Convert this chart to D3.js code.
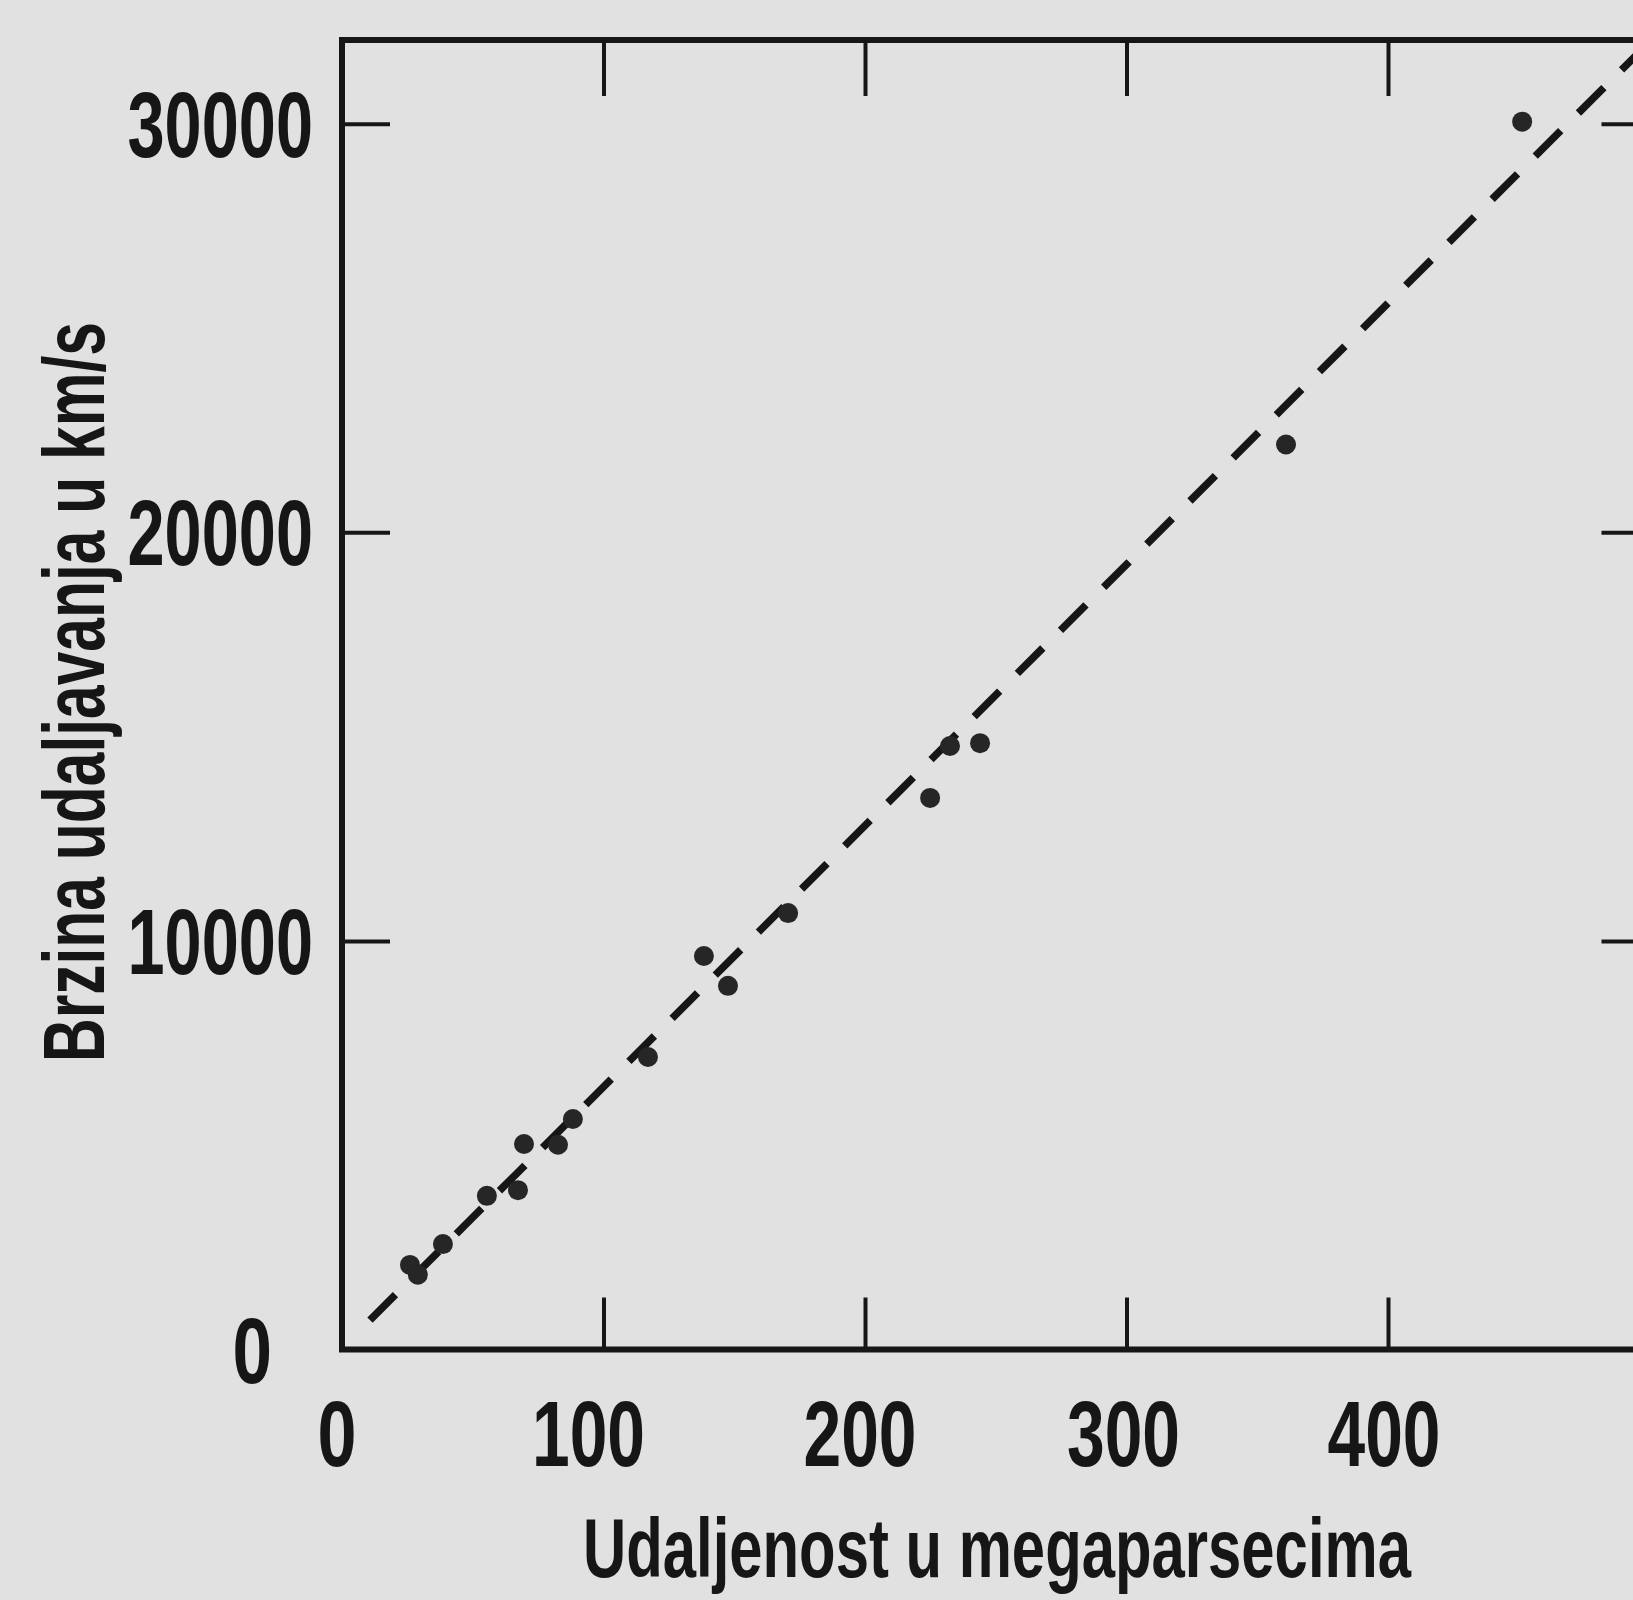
<!DOCTYPE html>
<html>
<head>
<meta charset="utf-8">
<script src="https://cdn.jsdelivr.net/npm/d3@7"></script>
<style>
  body { margin: 0; background: #e1e1e1; }
  svg { display: block; }
</style>
</head>
<body>
<script>
// distance (Mpc) and recession velocity (km/s)
var distance = [26, 29, 38.6, 55.4, 67.3, 69.6, 82.6, 88.3, 117, 138.4, 147.6, 170.6, 224.9, 232.5, 244, 361, 451.3]
var velocity = [2070, 1830, 2580, 3760, 3900, 5030, 5010, 5640, 7160, 9630, 8900, 10680, 13500, 14770, 14840, 22150, 30050]

// dashed fit line end points
var lineX = [10.7, 500]
var lineY = [720, 32000]

var xTicks = [0, 100, 200, 300, 400]
var yTicks = [0, 10000, 20000, 30000]

// define margin (plot area is square)
var margin = {left: 342, top: 42, right: 0, bottom: 250},
    width = 1307.5,
    height = 1307.5

var svg = d3.select("body").append("svg")
    .attr("width", 1633)
    .attr("height", 1600)

svg.append("rect")
    .attr("width", 1633)
    .attr("height", 1600)
    .attr("fill", "#e1e1e1")

var g = svg.append("g")
    .attr("transform", "translate(" + margin.left + "," + margin.top + ")")

var x = d3.scaleLinear().domain([0, 500]).range([0, width])
var y = d3.scaleLinear().domain([0, 32000]).range([height, 0])

var ink = "#161616"
var font = "'Liberation Sans Narrow', 'Liberation Sans', Arial, sans-serif"

// inward ticks on all four sides, no labels from the axis itself
function styleAxis(sel) {
    sel.selectAll("text").remove()
    sel.select(".domain").remove()
    sel.selectAll(".tick line").attr("stroke", ink).attr("stroke-width", 4)
}
g.append("g").attr("transform", "translate(0," + height + ")")
    .call(d3.axisBottom(x).tickValues([100, 200, 300, 400]).tickSize(-52)).call(styleAxis)
g.append("g")
    .call(d3.axisTop(x).tickValues([100, 200, 300, 400]).tickSize(-54)).call(styleAxis)
g.append("g")
    .call(d3.axisLeft(y).tickValues([10000, 20000, 30000]).tickSize(-48)).call(styleAxis)
g.append("g").attr("transform", "translate(" + width + ",0)")
    .call(d3.axisRight(y).tickValues([10000, 20000, 30000]).tickSize(-48)).call(styleAxis)

// frame
g.append("rect")
    .attr("x", 0).attr("y", -2)
    .attr("width", width).attr("height", height + 2)
    .attr("fill", "none")
    .attr("stroke", ink)
    .attr("stroke-width", 6)

// dashed line
g.append("line")
    .attr("x1", x(lineX[0])).attr("y1", y(lineY[0]))
    .attr("x2", x(lineX[1])).attr("y2", y(lineY[1]))
    .attr("stroke", ink)
    .attr("stroke-width", 7.5)
    .attr("stroke-dasharray", "36,25")

// galaxies
g.selectAll("circle")
    .data(distance)
    .enter()
    .append("circle")
    .attr("cx", function (d) { return x(d) })
    .attr("cy", function (d, i) { return y(velocity[i]) })
    .attr("r", 10)
    .attr("fill", "#262626")

// x tick labels
var xShift = {0: -5, 100: -15, 200: -5, 300: -3, 400: -4}
g.selectAll(null)
    .data(xTicks)
    .enter()
    .append("text")
    .attr("x", function (d) { return x(d) + xShift[d] })
    .attr("y", height + 116)
    .attr("text-anchor", "middle")
    .attr("font-family", font)
    .attr("font-weight", "bold")
    .attr("font-size", 93)
    .attr("fill", ink)
    .attr("textLength", function (d) { return String(d).length * 37 + 2 })
    .attr("lengthAdjust", "spacingAndGlyphs")
    .text(function (d) { return d })

// y tick labels ("0" sits further left in the original)
g.selectAll(null)
    .data(yTicks)
    .enter()
    .append("text")
    .attr("x", function (d) { return d == 0 ? -70 : -29 })
    .attr("y", function (d) { return y(d) + 33 })
    .attr("text-anchor", "end")
    .attr("font-family", font)
    .attr("font-weight", "bold")
    .attr("font-size", 93)
    .attr("fill", ink)
    .attr("textLength", function (d) { return String(d).length * 36.5 + 3 })
    .attr("lengthAdjust", "spacingAndGlyphs")
    .text(function (d) { return d })

// axis titles
svg.append("text")
    .attr("x", 997)
    .attr("y", 1577)
    .attr("text-anchor", "middle")
    .attr("font-family", font)
    .attr("font-weight", "bold")
    .attr("font-size", 84)
    .attr("fill", ink)
    .attr("textLength", 828)
    .attr("lengthAdjust", "spacingAndGlyphs")
    .text("Udaljenost u megaparsecima")

svg.append("text")
    .attr("transform", "translate(104,692) rotate(-90)")
    .attr("text-anchor", "middle")
    .attr("font-family", font)
    .attr("font-weight", "bold")
    .attr("font-size", 87)
    .attr("fill", ink)
    .attr("textLength", 740)
    .attr("lengthAdjust", "spacingAndGlyphs")
    .text("Brzina udaljavanja u km/s")
</script>
</body>
</html>
